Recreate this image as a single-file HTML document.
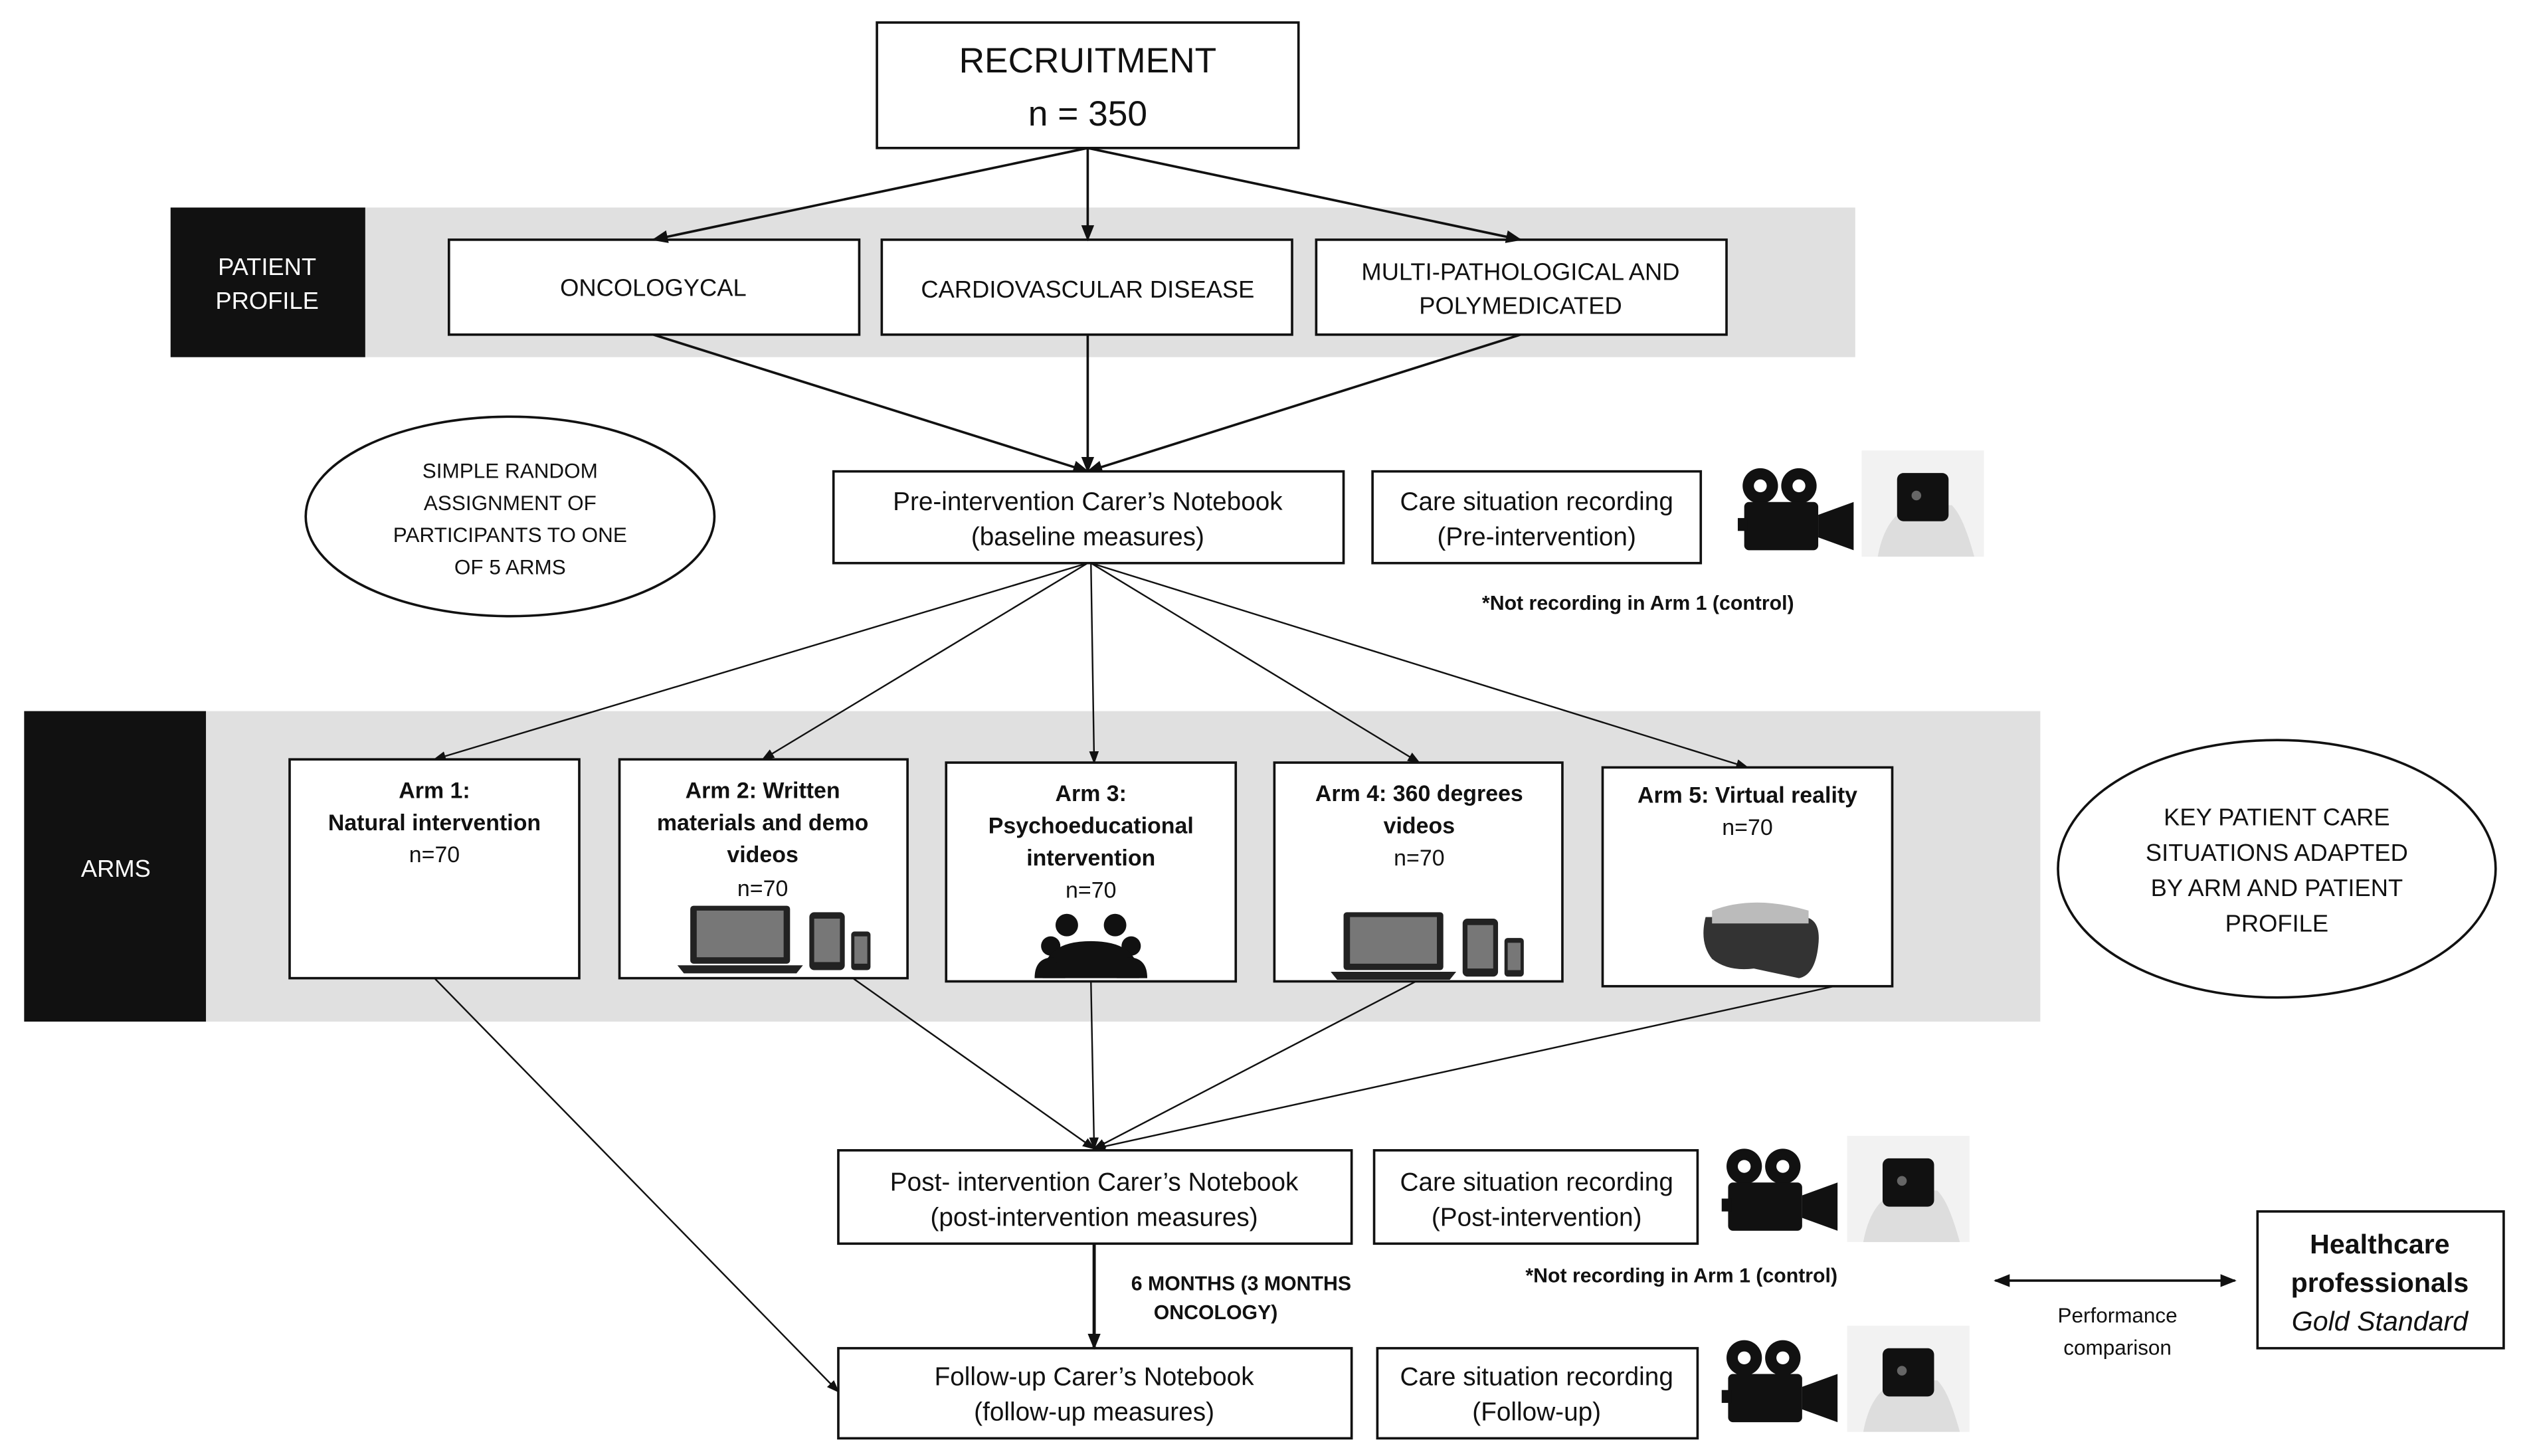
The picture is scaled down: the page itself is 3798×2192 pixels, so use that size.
<!DOCTYPE html>
<html><head><meta charset="utf-8"><style>
html,body{margin:0;padding:0;background:#fff;}
svg{display:block;}
text{font-family:"Liberation Sans",sans-serif;fill:#111;}
</style></head><body>
<svg width="3798" height="2192" viewBox="0 0 1568 905" preserveAspectRatio="none" xmlns="http://www.w3.org/2000/svg">
<defs>
<marker id="a" markerWidth="10" markerHeight="10" refX="9" refY="5" orient="auto" markerUnits="userSpaceOnUse"><path d="M0,1 L10,5 L0,9 z" fill="#111"/></marker>
<marker id="as" markerWidth="8" markerHeight="8" refX="7" refY="4" orient="auto" markerUnits="userSpaceOnUse"><path d="M0,1 L8,4 L0,7 z" fill="#111"/></marker>
<marker id="ab" markerWidth="10" markerHeight="10" refX="1" refY="5" orient="auto" markerUnits="userSpaceOnUse"><path d="M10,1 L0,5 L10,9 z" fill="#111"/></marker>
<g id="cam"><circle cx="14" cy="12" r="11" fill="#111"/><circle cx="38" cy="12" r="11" fill="#111"/><circle cx="14" cy="12" r="4" fill="#fff"/><circle cx="38" cy="12" r="4" fill="#fff"/><rect x="4" y="22" width="46" height="30" rx="3" fill="#111"/><path d="M50,30 L72,22 L72,52 L50,44 z" fill="#111"/><rect x="0" y="32" width="6" height="8" fill="#111"/></g>
<g id="hand"><rect x="0" y="0" width="76" height="66" fill="#f2f2f2"/><path d="M10,66 C14,44 24,36 34,34 L56,34 C62,40 66,52 70,66 z" fill="#ddd"/><rect x="22" y="14" width="32" height="30" rx="4" fill="#111"/><circle cx="34" cy="28" r="3" fill="#666"/></g>
<g id="dev"><rect x="8" y="0" width="62" height="36" rx="2" fill="#222"/><rect x="12" y="3" width="54" height="29" fill="#777"/><path d="M0,37 L78,37 L74,42 L4,42 z" fill="#222"/><rect x="82" y="4" width="22" height="36" rx="3" fill="#222"/><rect x="85" y="8" width="16" height="27" fill="#777"/><rect x="108" y="16" width="12" height="24" rx="2" fill="#222"/><rect x="110" y="19" width="8" height="17" fill="#777"/></g>
</defs>
<g stroke="#111" fill="none">
<!-- recruitment -->
<rect x="545" y="14" width="262" height="78" fill="#fff" stroke-width="1.5"/>
</g>
<text x="676" y="45" font-size="22" text-anchor="middle">RECRUITMENT</text>
<text x="676" y="78" font-size="22" text-anchor="middle">n = 350</text>

<rect x="227" y="129" width="926" height="93" fill="#e0e0e0"/>
<rect x="106" y="129" width="121" height="93" fill="#111"/>
<text x="166" y="171" font-size="15" text-anchor="middle" style="fill:#fff">PATIENT</text>
<text x="166" y="192" font-size="15" text-anchor="middle" style="fill:#fff">PROFILE</text>

<g stroke="#111" stroke-width="1.5" fill="#fff">
<rect x="279" y="149" width="255" height="59"/>
<rect x="548" y="149" width="255" height="59"/>
<rect x="818" y="149" width="255" height="59"/>
</g>
<text x="406" y="184" font-size="15" text-anchor="middle">ONCOLOGYCAL</text>
<text x="676" y="185" font-size="15" text-anchor="middle">CARDIOVASCULAR DISEASE</text>
<text x="945" y="174" font-size="15" text-anchor="middle">MULTI-PATHOLOGICAL AND</text>
<text x="945" y="195" font-size="15" text-anchor="middle">POLYMEDICATED</text>

<g stroke="#111" stroke-width="1.5" fill="none" marker-end="url(#a)">
<line x1="676" y1="92" x2="406" y2="149"/>
<line x1="676" y1="92" x2="676" y2="149"/>
<line x1="676" y1="92" x2="945" y2="149"/>
<line x1="406" y1="208" x2="676" y2="293"/>
<line x1="676" y1="208" x2="676" y2="293"/>
<line x1="945" y1="208" x2="676" y2="293"/>
</g>

<ellipse cx="317" cy="321" rx="127" ry="62" fill="#fff" stroke="#111" stroke-width="1.5"/>
<text x="317" y="297" font-size="13" text-anchor="middle">SIMPLE RANDOM</text>
<text x="317" y="317" font-size="13" text-anchor="middle">ASSIGNMENT OF</text>
<text x="317" y="337" font-size="13" text-anchor="middle">PARTICIPANTS TO ONE</text>
<text x="317" y="357" font-size="13" text-anchor="middle">OF 5 ARMS</text>

<g stroke="#111" stroke-width="1.5" fill="#fff">
<rect x="518" y="293" width="317" height="57"/>
<rect x="853" y="293" width="204" height="57"/>
</g>
<text x="676" y="317" font-size="16" text-anchor="middle">Pre-intervention Carer’s Notebook</text>
<text x="676" y="339" font-size="16" text-anchor="middle">(baseline measures)</text>
<text x="955" y="317" font-size="16" text-anchor="middle">Care situation recording</text>
<text x="955" y="339" font-size="16" text-anchor="middle">(Pre-intervention)</text>
<use href="#cam" x="1080" y="290"/>
<use href="#hand" x="1157" y="280"/>
<text x="1018" y="379" font-size="12.5" font-weight="bold" text-anchor="middle">*Not recording in Arm 1 (control)</text>

<rect x="128" y="442" width="1140" height="193" fill="#e0e0e0"/>
<rect x="15" y="442" width="113" height="193" fill="#111"/>
<text x="72" y="545" font-size="15" text-anchor="middle" style="fill:#fff">ARMS</text>

<g stroke="#111" stroke-width="1" fill="none" marker-end="url(#as)">
<line x1="676" y1="350" x2="270" y2="472"/>
<line x1="676" y1="350" x2="474" y2="472"/>
<line x1="678" y1="350" x2="680" y2="474"/>
<line x1="678" y1="350" x2="882" y2="474"/>
<line x1="678" y1="350" x2="1086" y2="477"/>
</g>

<g stroke="#111" stroke-width="1.5" fill="#fff">
<rect x="180" y="472" width="180" height="136"/>
<rect x="385" y="472" width="179" height="136"/>
<rect x="588" y="474" width="180" height="136"/>
<rect x="792" y="474" width="179" height="136"/>
<rect x="996" y="477" width="180" height="136"/>
</g>
<g font-size="14" text-anchor="middle">
<text x="270" y="496" font-weight="bold">Arm 1:</text>
<text x="270" y="516" font-weight="bold">Natural intervention</text>
<text x="270" y="536">n=70</text>
<text x="474" y="496" font-weight="bold">Arm 2: Written</text>
<text x="474" y="516" font-weight="bold">materials and demo</text>
<text x="474" y="536" font-weight="bold">videos</text>
<text x="474" y="557">n=70</text>
<text x="678" y="498" font-weight="bold">Arm 3:</text>
<text x="678" y="518" font-weight="bold">Psychoeducational</text>
<text x="678" y="538" font-weight="bold">intervention</text>
<text x="678" y="558">n=70</text>
<text x="882" y="498" font-weight="bold">Arm 4: 360 degrees</text>
<text x="882" y="518" font-weight="bold">videos</text>
<text x="882" y="538">n=70</text>
<text x="1086" y="499" font-weight="bold">Arm 5: Virtual reality</text>
<text x="1086" y="519">n=70</text>
</g>
<use href="#dev" x="421" y="563"/>
<use href="#dev" x="827" y="567"/>
<!-- group icon -->
<g fill="#111">
<circle cx="663" cy="575" r="7"/><circle cx="693" cy="575" r="7"/>
<circle cx="653" cy="588" r="6"/><circle cx="703" cy="588" r="6"/>
<path d="M648,608 Q648,585 678,585 Q708,585 708,608 z"/>
<path d="M643,608 Q643,595 655,595 L662,608 z"/><path d="M713,608 Q713,595 701,595 L694,608 z"/>
</g>
<!-- VR -->
<g>
<path d="M1060,570 L1122,570 Q1132,572 1130,588 Q1128,606 1118,608 L1090,602 Q1074,604 1064,596 Q1056,586 1060,570 z" fill="#333"/>
<path d="M1064,566 Q1090,556 1124,566 L1124,574 L1064,574 z" fill="#bbb"/>
</g>

<ellipse cx="1415" cy="540" rx="136" ry="80" fill="#fff" stroke="#111" stroke-width="1.5"/>
<g font-size="15" text-anchor="middle">
<text x="1415" y="513">KEY PATIENT CARE</text>
<text x="1415" y="535">SITUATIONS ADAPTED</text>
<text x="1415" y="557">BY ARM AND PATIENT</text>
<text x="1415" y="579">PROFILE</text>
</g>

<g stroke="#111" stroke-width="1" fill="none" marker-end="url(#as)">
<line x1="270" y1="608" x2="521" y2="865"/>
<line x1="530" y1="608" x2="680" y2="714"/>
<line x1="678" y1="610" x2="680" y2="714"/>
<line x1="880" y1="610" x2="680" y2="714"/>
<line x1="1140" y1="613" x2="680" y2="714"/>
</g>

<g stroke="#111" stroke-width="1.5" fill="#fff">
<rect x="521" y="715" width="319" height="58"/>
<rect x="854" y="715" width="201" height="58"/>
<rect x="521" y="838" width="319" height="56"/>
<rect x="856" y="838" width="199" height="56"/>
<rect x="1403" y="753" width="153" height="85"/>
</g>
<g font-size="16" text-anchor="middle">
<text x="680" y="740">Post- intervention Carer’s Notebook</text>
<text x="680" y="762">(post-intervention measures)</text>
<text x="955" y="740">Care situation recording</text>
<text x="955" y="762">(Post-intervention)</text>
<text x="680" y="861">Follow-up Carer’s Notebook</text>
<text x="680" y="883">(follow-up measures)</text>
<text x="955" y="861">Care situation recording</text>
<text x="955" y="883">(Follow-up)</text>
</g>
<use href="#cam" x="1070" y="713"/>
<use href="#hand" x="1148" y="706"/>
<use href="#cam" x="1070" y="832"/>
<use href="#hand" x="1148" y="824"/>
<text x="1045" y="797" font-size="12.5" font-weight="bold" text-anchor="middle">*Not recording in Arm 1 (control)</text>

<line x1="680" y1="773" x2="680" y2="838" stroke="#111" stroke-width="2" marker-end="url(#a)"/>
<text x="703" y="802" font-size="12.5" font-weight="bold">6 MONTHS (3 MONTHS</text>
<text x="717" y="820" font-size="12.5" font-weight="bold">ONCOLOGY)</text>

<line x1="1240" y1="796" x2="1389" y2="796" stroke="#111" stroke-width="1.5" marker-start="url(#ab)" marker-end="url(#a)"/>
<text x="1316" y="822" font-size="13" text-anchor="middle">Performance</text>
<text x="1316" y="842" font-size="13" text-anchor="middle">comparison</text>

<text x="1479" y="779" font-size="17" font-weight="bold" text-anchor="middle">Healthcare</text>
<text x="1479" y="803" font-size="17" font-weight="bold" text-anchor="middle">professionals</text>
<text x="1479" y="827" font-size="17" font-style="italic" text-anchor="middle">Gold Standard</text>
</svg>
</body></html>
